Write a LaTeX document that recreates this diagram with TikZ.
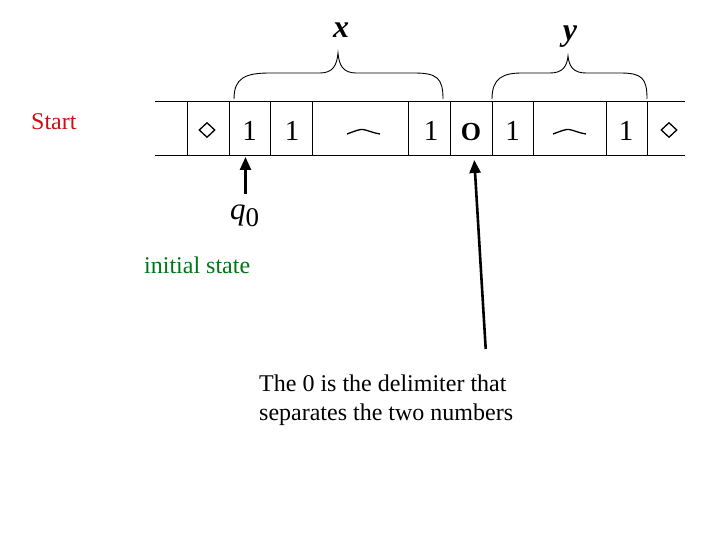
\documentclass[tikz,border=0pt]{standalone}
\usepackage{fontspec}
\setmainfont{Liberation Serif}
\usetikzlibrary{arrows.meta,shapes.geometric}
\definecolor{startred}{RGB}{204,16,16}
\definecolor{stategreen}{RGB}{0,118,20}
\tikzset{
  tapeline/.style={line width=1pt},
  symbol/.style={anchor=base, inner sep=0pt, font=\fontsize{29}{29}\selectfont},
  blank/.style={draw, diamond, line width=1.3pt, inner sep=0pt, minimum width=16pt, minimum height=15pt},
  gap/.style={line width=1.3pt},
  curly/.style={line width=0.9pt},
  pointer/.style={line width=2.6pt, -{Triangle[width=11pt,length=13pt]}},
  caption/.style={anchor=base west, inner sep=0pt, font=\fontsize{24}{24}\selectfont}
}
\begin{document}
\begin{tikzpicture}[x=1pt,y=-1pt]
\useasboundingbox (0,0) rectangle (720,540);
% tape
\draw[tapeline] (155,102) -- (685,102);
\draw[tapeline] (155,156) -- (685,156);
\foreach \bx in {187,229,270,312,408,450,492,533,606,647}
  \draw[tapeline] (\bx,102) -- (\bx,156);
% cell contents
\node[blank] (blankl) at (207,130) {};
\node[symbol] (xa) at (249.5,141) {1};
\node[symbol] (xb) at (292,141) {1};
\node[symbol] (xc) at (431,141) {1};
\node[symbol, font=\fontsize{26}{26}\selectfont\bfseries] (delim) at (471,141) {O};
\node[symbol] (ya) at (512.5,141) {1};
\node[symbol] (yb) at (626,141) {1};
\node[blank] (blankr) at (669,130) {};
\foreach \gx in {363,569}
  \draw[gap] (\gx-16,134) .. controls (\gx-8,131) and (\gx-3,129) .. (\gx,129.5)
    .. controls (\gx+4,130) and (\gx+10,133) .. (\gx+17,134);
% braces
\draw[curly] (234,99) .. controls (234,78) and (245,73) .. (270,73) -- (320,73)
  .. controls (333,73) and (337,65) .. (338,53) .. controls (339,65) and (343,73) .. (356,73)
  -- (414,73) .. controls (437,73) and (443,78) .. (443,99);
\draw[curly] (492,99) .. controls (492,78) and (503,73) .. (522,73) -- (550,73)
  .. controls (563,73) and (567,66) .. (568,56) .. controls (569,66) and (573,73) .. (586,73)
  -- (620,73) .. controls (642,73) and (647,78) .. (647,99);
\node[font=\fontsize{32}{32}\selectfont\bfseries\itshape, inner sep=0pt] (xlbl) at (341,30) {x};
\node[font=\fontsize{32}{32}\selectfont\bfseries\itshape, inner sep=0pt] (ylbl) at (570,37) {y};
% labels
\node[caption, text=startred] (start) at (31,130) {Start};
\node[anchor=base west, inner xsep=0pt, inner ysep=0pt] (qzero) at (230,219)
  {{\fontsize{31}{31}\selectfont\itshape q}{\fontsize{27}{27}\selectfont\raisebox{-7pt}{0}}};
\node[caption, text=stategreen] (initial) at (144,273) {initial state};
\node[anchor=north west, inner sep=0pt, align=left, font=\fontsize{24}{29}\selectfont] (note) at (259,375)
  {The 0 is the delimiter that\\separates the two numbers};
% pointers
\coordinate (headtip) at (245.5,157);
\coordinate (qtail) at (245.5,194);
\coordinate (delimtip) at (474.3,160);
\coordinate (delimtail) at (485.7,349);
\draw[pointer] (qtail) -- (headtip);
\draw[pointer] (delimtail) -- (delimtip);
\end{tikzpicture}
\end{document}
